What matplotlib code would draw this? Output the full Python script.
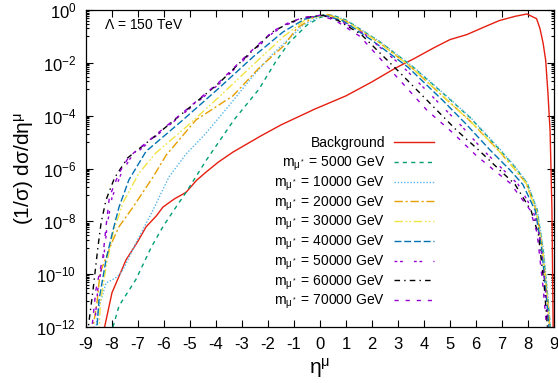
import numpy as np
import matplotlib
matplotlib.use("Agg")
import matplotlib.pyplot as plt
from matplotlib.ticker import FixedLocator, FixedFormatter

plt.rcParams['font.family'] = ['Liberation Sans', 'DejaVu Sans']
plt.rcParams['mathtext.fontset'] = 'custom'
plt.rcParams['mathtext.rm'] = 'Liberation Sans'
plt.rcParams['mathtext.it'] = 'Liberation Sans:italic'
plt.rcParams['mathtext.default'] = 'regular'

# eta^mu and log10 of (1/sigma) dsigma/deta
eta_bkg = [-8.35, -8.0, -7.46, -7.0, -6.69, -6.3, -6.04, -5.6, -5.15, -4.75, -4.4, -3.9, -3.35, -2.3, -1.5,
           -0.2, 1.0, 2.0, 2.9, 3.6, 4.4, 5.0, 5.65, 6.3, 6.9, 7.5, 7.96, 8.33, 8.46, 8.58, 8.68, 8.77,
           8.85, 8.92, 8.97]
log_bkg = [-12.3, -10.7, -9.46, -8.75, -8.21, -7.8, -7.46, -7.15, -6.9, -6.45, -6.15, -5.75, -5.38, -4.78,
           -4.35, -3.75, -3.25, -2.72, -2.2, -1.85, -1.42, -1.12, -0.93, -0.65, -0.4, -0.24, -0.15, -0.33,
           -0.7, -1.25, -1.9, -3.2, -4.6, -7.5, -12.3]

eta_5000 = [-8.05, -7.73, -7.08, -6.5, -6.04, -5.6, -5.15, -4.35, -3.3, -2.35, -1.7, -1.2, -0.5, 0.0, 0.45,
            1.0, 2.3, 3.58, 4.9, 5.8, 6.92, 7.5, 7.96, 8.35, 8.58, 8.77, 8.88]
log_5000 = [-12.3, -11.2, -10.2, -9.0, -8.2, -7.55, -6.9, -5.65, -4.15, -3.0, -1.95, -1.25, -0.57, -0.28,
            -0.18, -0.38, -1.2, -2.16, -3.3, -4.1, -5.3, -5.95, -6.55, -7.57, -9.1, -11.0, -12.3]

eta_10000 = [-8.66, -8.5, -8.23, -8.0, -7.8, -7.58, -7.08, -6.42, -5.81, -5.15, -4.38, -3.5, -2.58, -1.81,
             -1.2, -0.65, 0.0, 0.4, 1.0, 2.3, 3.6, 4.92, 5.82, 6.95, 7.52, 7.98, 8.36, 8.6, 8.78, 8.88]
log_10000 = [-12.3, -11.24, -10.33, -10.22, -10.1, -9.84, -8.82, -7.57, -6.32, -5.45, -4.66, -3.62, -2.5,
             -1.65, -1.1, -0.57, -0.25, -0.18, -0.38, -1.2, -2.16, -3.3, -4.1, -5.3, -5.95, -6.55, -7.57,
             -9.1, -11.0, -12.3]

eta_20000 = [-8.78, -8.58, -8.46, -8.2, -7.96, -7.73, -7.19, -6.42, -5.92, -4.77, -3.35, -2.35, -1.42,
             -0.88, -0.2, 0.3, 1.0, 2.3, 3.5, 4.82, 5.72, 6.85, 7.45, 7.92, 8.32, 8.56, 8.75, 8.86]
log_20000 = [-12.3, -11.1, -9.95, -9.3, -8.7, -8.2, -7.46, -6.32, -5.5, -4.16, -3.25, -2.2, -1.38, -0.68,
             -0.25, -0.17, -0.42, -1.25, -2.16, -3.35, -4.15, -5.3, -5.98, -6.55, -7.6, -9.1, -11.0, -12.3]

eta_30000 = [-8.5, -8.45, -8.23, -7.96, -7.58, -6.96, -6.31, -5.15, -3.88, -2.58, -1.42, -0.6, 0.2, 1.0,
             2.3, 3.5, 4.82, 5.72, 6.85, 7.45, 7.92, 8.32, 8.56, 8.75, 8.85]
log_30000 = [-12.3, -11.1, -9.73, -8.44, -7.3, -6.17, -5.41, -4.43, -3.29, -2.08, -1.02, -0.4, -0.17,
             -0.42, -1.25, -2.16, -3.35, -4.15, -5.3, -5.98, -6.55, -7.6, -9.1, -11.0, -12.3]

eta_40000 = [-8.6, -8.5, -8.23, -7.96, -7.73, -7.35, -6.69, -5.27, -3.88, -2.58, -1.42, -0.6, 0.1, 0.9,
             2.0, 3.38, 4.7, 5.6, 6.54, 7.3, 7.8, 8.28, 8.52, 8.72, 8.83]
log_40000 = [-12.3, -10.98, -9.46, -8.33, -7.46, -6.43, -5.35, -4.16, -2.95, -1.78, -0.83, -0.35, -0.18,
             -0.42, -1.15, -2.16, -3.4, -4.3, -5.3, -6.05, -6.6, -7.6, -9.0, -11.0, -12.3]

eta_50000 = [-8.7, -8.55, -8.3, -8.18, -8.0, -7.65, -7.3, -6.42, -5.15, -3.88, -2.73, -1.81, -1.15, -0.6,
             0.1, 0.75, 1.7, 3.2, 4.5, 5.45, 6.27, 7.05, 7.62, 8.2, 8.45, 8.66, 8.8]
log_50000 = [-12.3, -10.6, -9.2, -8.1, -7.1, -6.2, -5.62, -4.86, -3.84, -2.8, -1.7, -0.86, -0.5, -0.3,
             -0.2, -0.4, -0.9, -2.16, -3.45, -4.4, -5.3, -6.05, -6.6, -7.6, -8.6, -10.5, -12.3]

eta_60000 = [-8.95, -8.73, -8.54, -8.42, -8.23, -7.9, -7.4, -6.42, -5.15, -3.88, -2.73, -1.81, -1.15, -0.6,
             0.1, 0.7, 1.58, 3.05, 4.3, 5.25, 6.1, 6.85, 7.5, 8.12, 8.4, 8.62, 8.77]
log_60000 = [-12.3, -10.6, -8.97, -8.06, -7.19, -6.35, -5.6, -4.83, -3.8, -2.76, -1.66, -0.82, -0.47, -0.29,
             -0.2, -0.4, -0.92, -2.35, -3.6, -4.55, -5.3, -6.0, -6.6, -7.6, -8.5, -10.4, -12.3]

eta_70000 = [-8.8, -8.62, -8.35, -8.23, -8.1, -7.73, -7.35, -6.42, -5.15, -3.88, -2.73, -1.81, -1.15, -0.6,
             0.0, 0.6, 1.54, 2.96, 4.12, 5.12, 6.0, 6.8, 7.31, 8.08, 8.35, 8.58, 8.74]
log_70000 = [-12.3, -10.6, -9.35, -8.2, -7.08, -6.17, -5.56, -4.81, -3.78, -2.73, -1.63, -0.8, -0.45, -0.28,
             -0.2, -0.4, -1.0, -2.54, -3.8, -4.66, -5.5, -6.15, -6.55, -7.57, -8.44, -10.5, -12.3]

masses = [5000, 10000, 20000, 30000, 40000, 50000, 60000, 70000]
colors = ['#009e73', '#56b4e9', '#e69f00', '#f0e442', '#0072b2', '#9400d3', '#000000', '#9400d3']
dashes = [(0, (3, 3)), (0, (1, 1.3)), (0, (6, 2, 1.5, 2)), (0, (6, 2, 1.2, 1.5, 1.2, 2)),
          (0, (5, 2)), (0, (2, 2, 2, 8)), (0, (4, 3, 1, 3)), (0, (3, 5))]
signal = [(eta_5000, log_5000), (eta_10000, log_10000), (eta_20000, log_20000), (eta_30000, log_30000),
          (eta_40000, log_40000), (eta_50000, log_50000), (eta_60000, log_60000), (eta_70000, log_70000)]

fig = plt.figure(figsize=(5.58, 3.83), dpi=100)
ax = fig.add_axes([86 / 558, 1 - 327 / 383, 468 / 558, 317 / 383])

ax.semilogy(eta_bkg, 10.0 ** np.array(log_bkg), color='#e51e10', lw=1.0)
for (x, ly), c, d in zip(signal, colors, dashes):
    ax.semilogy(x, 10.0 ** np.array(ly), color=c, lw=1.0, linestyle=d)

ax.set_xlim(-9, 9)
ax.set_ylim(1e-12, 1)

xt = list(range(-9, 10))
ax.xaxis.set_major_locator(FixedLocator(xt))
ax.xaxis.set_major_formatter(FixedFormatter([str(v) for v in xt]))
yt = [10.0 ** k for k in range(-12, 1, 2)]
ax.yaxis.set_major_locator(FixedLocator(yt))
ax.yaxis.set_major_formatter(FixedFormatter([r'$10^{%d}$' % k for k in range(-12, 1, 2)]))
ax.yaxis.set_minor_locator(FixedLocator([m * 10.0 ** k for k in range(-11, 0, 2) for m in range(1, 10)]))
ax.yaxis.set_minor_formatter(FixedFormatter([]))

ax.tick_params(which='both', direction='in', top=True, right=True, width=0.8, labelsize=12)
ax.tick_params(which='major', length=5, pad=7)
ax.tick_params(which='minor', length=2.5)
for s in ax.spines.values():
    s.set_linewidth(0.9)

ax.set_xlabel(r'$\eta^{\mu}$', fontsize=15, labelpad=3)
ax.set_ylabel(r'(1/$\sigma$) d$\sigma$/d$\eta^{\mu}$', fontsize=15, labelpad=0)

ax.text(0.038, 0.953, r'$\Lambda$ = 150 TeV', transform=ax.transAxes, fontsize=10, va='center')

# key, gnuplot style: label on the left, line sample on the right
labels = ['Background'] + [r'm$_{\mu^*}$ = %d GeV' % m for m in masses]
key_colors = ['#e51e10'] + colors
key_styles = ['-'] + dashes
row0 = (327 - 147) / 317
step = 19.75 / 317
for i, (lab, c, d) in enumerate(zip(labels, key_colors, key_styles)):
    y = row0 - i * step
    ax.text(0.639, y, lab, transform=ax.transAxes, fontsize=10, ha='right', va='baseline')
    ax.plot([0.658, 0.743], [y + 5 / 317, y + 5 / 317], transform=ax.transAxes, color=c, lw=1.0,
            linestyle=d)

fig.savefig('out.png', dpi=100)
